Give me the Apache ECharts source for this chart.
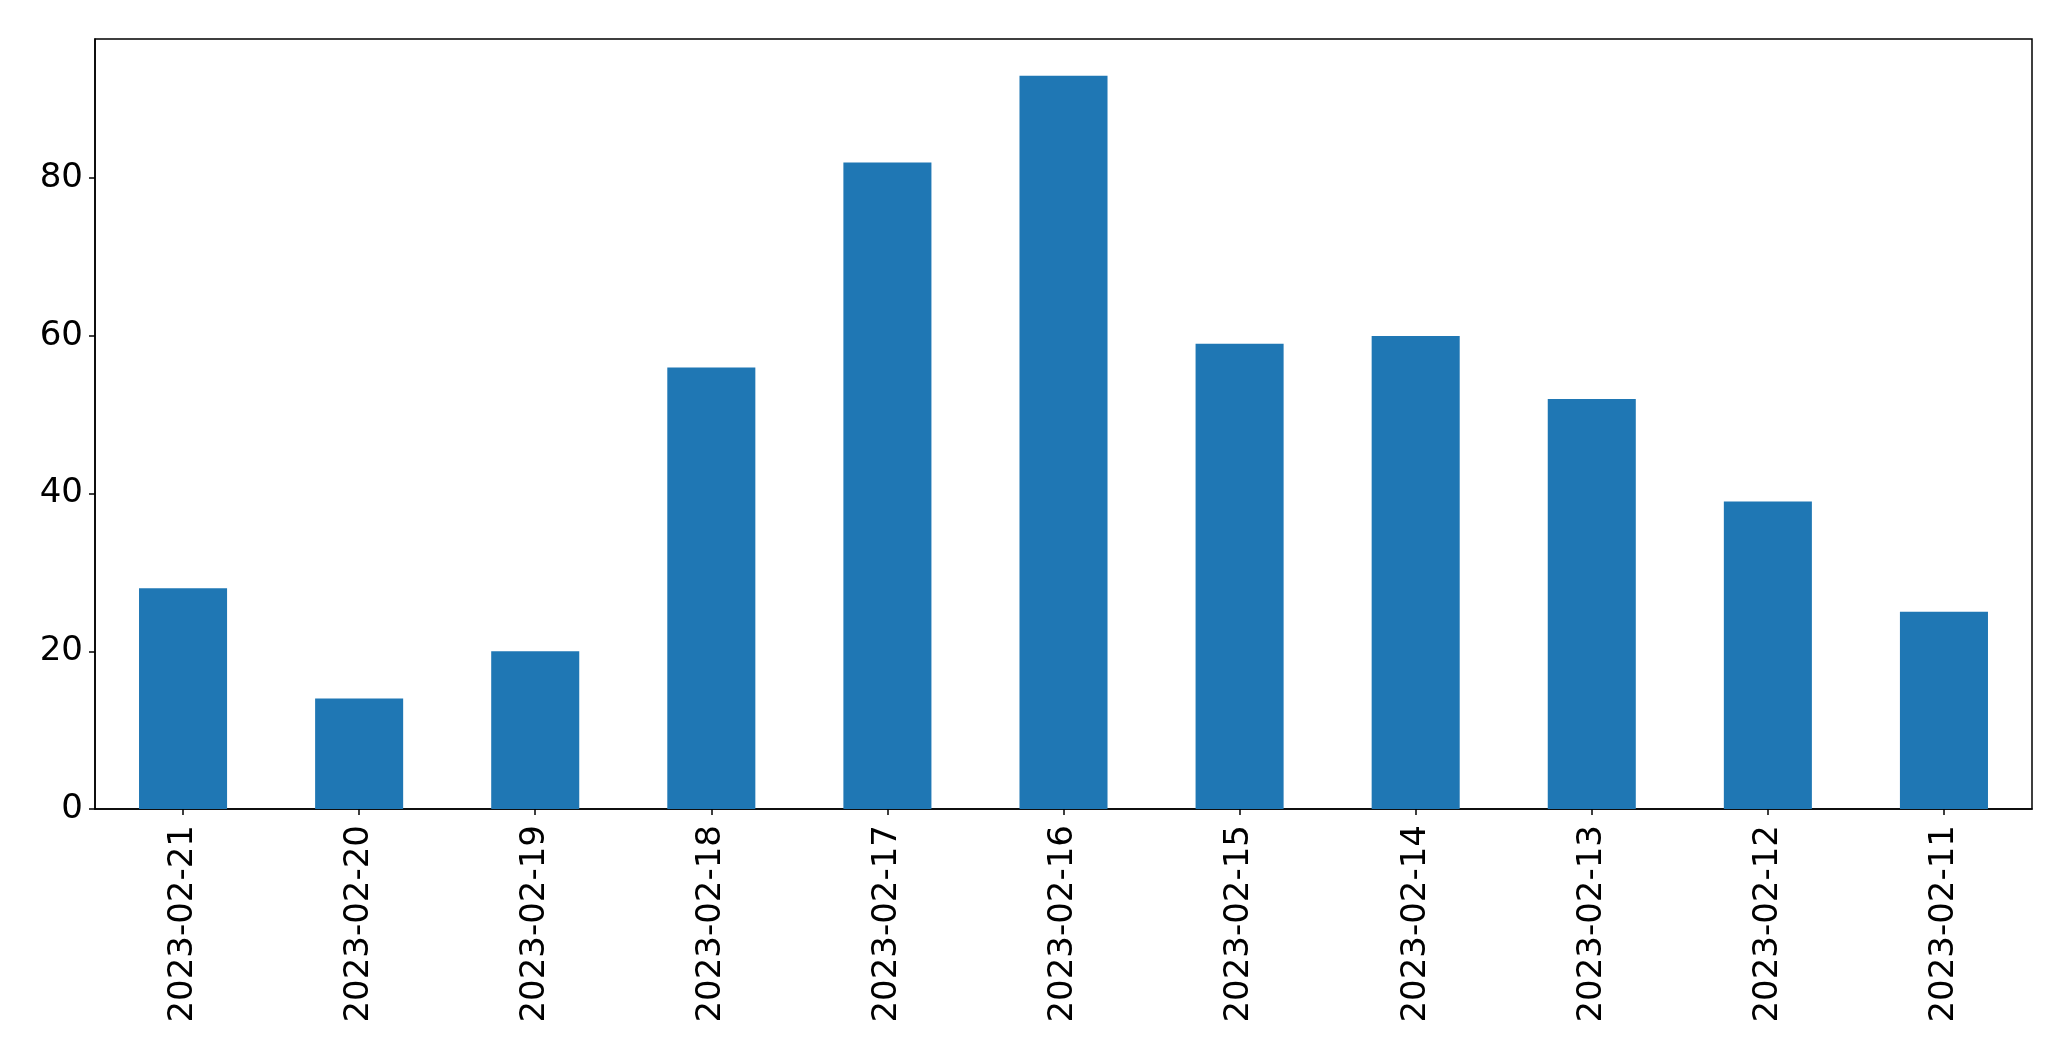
<!DOCTYPE html>
<html>
<head>
<meta charset="utf-8">
<script src="https://cdn.jsdelivr.net/npm/echarts@6/dist/echarts.min.js"></script>
<style>html,body{margin:0;padding:0;background:#fff;}#c{width:2071px;height:1061px;}</style>
</head>
<body>
<div id="c"></div>
<script>
const categories = ["2023-02-21","2023-02-20","2023-02-19","2023-02-18","2023-02-17","2023-02-16","2023-02-15","2023-02-14","2023-02-13","2023-02-12","2023-02-11"];
const values = [28, 14, 20, 56, 82, 93, 59, 60, 52, 39, 25];
const yTicks = [0, 20, 40, 60, 80];
const yMax = 97.65;

const chart = echarts.init(document.getElementById('c'), null, {renderer: 'canvas'});
const font = 'DejaVu Sans';
chart.setOption({
  animation: false,
  backgroundColor: '#fff',
  grid: {left: 95, right: 39, top: 39, bottom: 252, show: true, borderColor: '#000', borderWidth: 1.5, backgroundColor: 'transparent'},
  xAxis: {
    type: 'category',
    data: categories,
    boundaryGap: true,
    axisLine: {show: true, lineStyle: {color: '#000', width: 1.5}},
    axisTick: {show: true, alignWithLabel: true, length: 6, lineStyle: {color: '#000', width: 1.5}},
    axisLabel: {rotate: 90, margin: 16, fontSize: 34, fontFamily: font, color: '#000', interval: 0},
    splitLine: {show: false}
  },
  yAxis: {
    type: 'value',
    min: 0,
    max: yMax,
    interval: 20,
    axisLine: {show: true, lineStyle: {color: '#000', width: 1.5}},
    axisTick: {show: true, length: 6, lineStyle: {color: '#000', width: 1.5}, customValues: yTicks},
    axisLabel: {fontSize: 34, margin: 12, fontFamily: font, color: '#000', customValues: yTicks},
    splitLine: {show: false}
  },
  series: [{
    type: 'bar',
    data: values,
    barWidth: '50%',
    itemStyle: {color: '#1f77b4'}
  }]
});
</script>
</body>
</html>
